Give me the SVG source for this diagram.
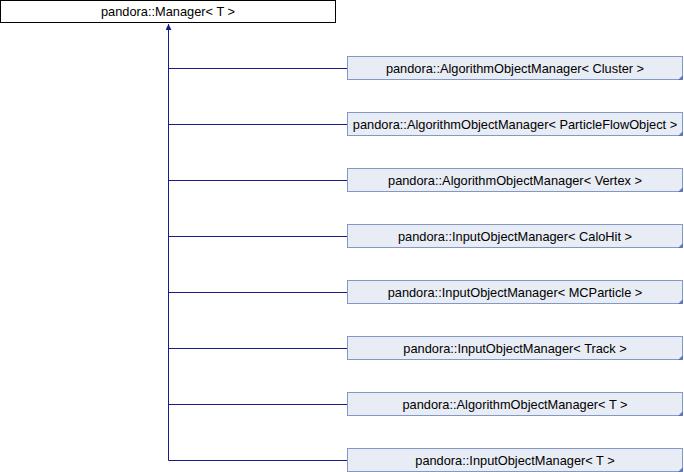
<svg xmlns="http://www.w3.org/2000/svg" width="684" height="472" viewBox="0 0 684 472">
<defs>
<style>
.t{font-family:"Liberation Sans",Arial,sans-serif;font-size:12.8px;fill:#000;text-anchor:middle}
.base{fill:#fff;stroke:#000;stroke-width:1}
.child{fill:#e8ecf5;stroke:#8498c6;stroke-width:1}
.corner{fill:#5a79c0}
.edge{stroke:#1a1a88;stroke-width:1;fill:none}
</style>
<marker id="ah" viewBox="0 0 10 10" refX="10" refY="5" markerWidth="6" markerHeight="6" markerUnits="userSpaceOnUse" orient="auto">
<path d="M0,0 L10,5 L0,10 z" fill="#1a1a88"/>
</marker>
</defs>
<rect width="684" height="472" fill="#fff"/>
<g id="connectors">
<path class="edge" d="M168.5,460.5 V24" marker-end="url(#ah)"/>
<path class="edge" d="M168.5,68.5 H347"/>
<path class="edge" d="M168.5,124.5 H347"/>
<path class="edge" d="M168.5,180.5 H347"/>
<path class="edge" d="M168.5,236.5 H347"/>
<path class="edge" d="M168.5,292.5 H347"/>
<path class="edge" d="M168.5,348.5 H347"/>
<path class="edge" d="M168.5,404.5 H347"/>
<path class="edge" d="M168.5,460.5 H347"/>
</g>
<g id="manager">
<rect class="base" x="0.5" y="0.5" width="335" height="22"/>
<text class="t" x="168" y="16">pandora::Manager&lt; T &gt;</text>
</g>
<g id="aom_cluster">
<rect class="child" x="347.5" y="56.5" width="335" height="23"/>
<path class="corner" d="M683,75 V80 H678 z"/>
<text class="t" x="515" y="72.5">pandora::AlgorithmObjectManager&lt; Cluster &gt;</text>
</g>
<g id="aom_pfo">
<rect class="child" x="347.5" y="112.5" width="335" height="23"/>
<path class="corner" d="M683,131 V136 H678 z"/>
<text class="t" x="515" y="128.5">pandora::AlgorithmObjectManager&lt; ParticleFlowObject &gt;</text>
</g>
<g id="aom_vertex">
<rect class="child" x="347.5" y="168.5" width="335" height="23"/>
<path class="corner" d="M683,187 V192 H678 z"/>
<text class="t" x="515" y="184.5">pandora::AlgorithmObjectManager&lt; Vertex &gt;</text>
</g>
<g id="iom_calohit">
<rect class="child" x="347.5" y="224.5" width="335" height="23"/>
<path class="corner" d="M683,243 V248 H678 z"/>
<text class="t" x="515" y="240.5">pandora::InputObjectManager&lt; CaloHit &gt;</text>
</g>
<g id="iom_mcparticle">
<rect class="child" x="347.5" y="280.5" width="335" height="23"/>
<path class="corner" d="M683,299 V304 H678 z"/>
<text class="t" x="515" y="296.5">pandora::InputObjectManager&lt; MCParticle &gt;</text>
</g>
<g id="iom_track">
<rect class="child" x="347.5" y="336.5" width="335" height="23"/>
<path class="corner" d="M683,355 V360 H678 z"/>
<text class="t" x="515" y="352.5">pandora::InputObjectManager&lt; Track &gt;</text>
</g>
<g id="aom_t">
<rect class="child" x="347.5" y="392.5" width="335" height="23"/>
<path class="corner" d="M683,411 V416 H678 z"/>
<text class="t" x="515" y="408.5">pandora::AlgorithmObjectManager&lt; T &gt;</text>
</g>
<g id="iom_t">
<rect class="child" x="347.5" y="448.5" width="335" height="23"/>
<path class="corner" d="M683,467 V472 H678 z"/>
<text class="t" x="515" y="464.5">pandora::InputObjectManager&lt; T &gt;</text>
</g>
</svg>
